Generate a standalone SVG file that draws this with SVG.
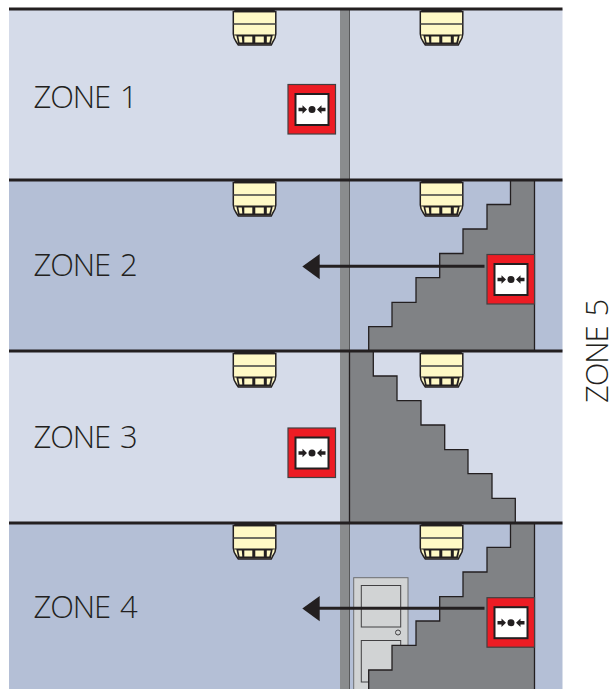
<svg xmlns="http://www.w3.org/2000/svg" width="616" height="689" viewBox="0 0 616 689">
<style>
.z{fill:#231f20;font-family:"Open Sans","Noto Sans",sans-serif;font-size:31px;font-weight:300;letter-spacing:-1.1px;word-spacing:3px}
.st{fill:#808285;stroke:#231f20;stroke-width:1.3}
.fl{stroke:#231f20;stroke-width:3;fill:none}
.ln{stroke:#231f20;stroke-width:3;fill:none}
.dp{fill:#d1d3d4;stroke:#414042;stroke-width:1}
</style>
<defs>
<g id="det">
<path d="M0 2.500H42.500V25C42.500 28 41.500 30 39.500 33L38 36H5L3 33C1 30 0 28 0 25Z" fill="#fff9c6" stroke="#231f20" stroke-width="1.500"/>
<path d="M1 1.800H41.500" stroke="#231f20" stroke-width="3"/>
<path d="M0 15H42.500" stroke="#414042" stroke-width="1.300"/>
<path d="M1 26H41.500" stroke="#231f20" stroke-width="1"/>
<path d="M3 26H39.500L37.500 35.500H5Z" fill="#231f20"/>
<path d="M5 27.500H8.500L9 33.500H6.300ZM11 27.500H19V33.500H11ZM22 27.500H30.500V33.500H22ZM33.500 27.500H37.500L36 33.500H33.500Z" fill="#fff9c6"/>
</g>
<g id="mcp">
<rect x="0" y="0" width="47.500" height="49.500" fill="#ed1c24" stroke="#414042" stroke-width="1.200"/>
<rect x="7.500" y="9.500" width="33" height="31" fill="#fff" stroke="#231f20" stroke-width="2"/>
<circle cx="24" cy="25" r="3.500" fill="#231f20"/>
<path d="M10.500 23.300H14.500V20.800L19 25L14.500 29.200V26.700H10.500Z" fill="#231f20"/>
<path d="M37.500 23.300H33.500V20.800L29 25L33.500 29.200V26.700H37.500Z" fill="#231f20"/>
</g>
</defs>
<rect width="616" height="689" fill="#fff"/>
<g id="zones">
<rect x="9" y="9" width="553.500" height="171" fill="#d5dbe9"/>
<rect x="9" y="180" width="553.500" height="171" fill="#b4bfd6"/>
<rect x="9" y="351" width="553.500" height="172" fill="#d5dbe9"/>
<rect x="9" y="523" width="553.500" height="166" fill="#b4bfd6"/>
</g>
<g id="wall">
<rect x="340" y="9" width="9" height="680" fill="#8a8c8e"/>
<path d="M349.500 9V689" stroke="#58595b" stroke-width="1" fill="none"/>
</g>
<g id="door">
<rect x="353.700" y="577.700" width="54.300" height="115" fill="#d1d3d4" stroke="#6d6e71" stroke-width="1"/>
<rect class="dp" x="361.300" y="585.500" width="39.400" height="41.500"/>
<rect class="dp" x="361.300" y="640.500" width="39.400" height="41.500"/>
<circle cx="398" cy="632.500" r="2.500" fill="none" stroke="#414042" stroke-width="1"/>
</g>
<g id="stairs">
<path class="st" d="M510.500 180V204.500H487V229H463V253.500H439.700V277.700H416V302.300H392V326.700H368.700V351H534.500V180Z"/>
<path class="st" d="M349.500 351H373.300V376H397V400.700H421V425H444.700V449.700H468V473.700H492V498.300H515.300V523H349.500Z"/>
<path class="st" d="M510.500 523V547.300H487V572H463V596.700H439.700V621H416V645.300H392V670H368.700V692H534.500V523Z"/>
</g>
<g id="floors">
<path class="fl" d="M9 9H562.500M9 180H562.500M9 351H562.500M9 523H562.500"/>
</g>
<g id="connectors">
<path class="ln" d="M316 266.300H484.500"/>
<path d="M302.300 266.500L319.700 254V279.300Z" fill="#231f20"/>
<path class="ln" d="M316 608.300H484.500"/>
<path d="M302.300 608.500L319.700 596V621.300Z" fill="#231f20"/>
</g>
<g id="detector-1a"><use href="#det" x="233.300" y="9"/></g>
<g id="detector-1b"><use href="#det" x="420.300" y="9"/></g>
<g id="detector-2a"><use href="#det" x="233.300" y="180"/></g>
<g id="detector-2b"><use href="#det" x="420.300" y="180"/></g>
<g id="detector-3a"><use href="#det" x="233.300" y="351"/></g>
<g id="detector-3b"><use href="#det" x="420.300" y="351"/></g>
<g id="detector-4a"><use href="#det" x="233.300" y="523"/></g>
<g id="detector-4b"><use href="#det" x="420.300" y="523"/></g>
<g id="callpoint-1"><use href="#mcp" x="288" y="84.500"/></g>
<g id="callpoint-2"><use href="#mcp" x="487" y="254.500"/></g>
<g id="callpoint-3"><use href="#mcp" x="288" y="428"/></g>
<g id="callpoint-4"><use href="#mcp" x="487" y="597.700"/></g>
<g id="labels">
<text class="z" x="33.500" y="108.300">ZONE 1</text>
<text class="z" x="33.500" y="276.300">ZONE 2</text>
<text class="z" x="33.500" y="448.300">ZONE 3</text>
<text class="z" x="33.500" y="618.300">ZONE 4</text>
<text class="z" transform="translate(608.300 403) rotate(-90)">ZONE 5</text>
</g>
</svg>
